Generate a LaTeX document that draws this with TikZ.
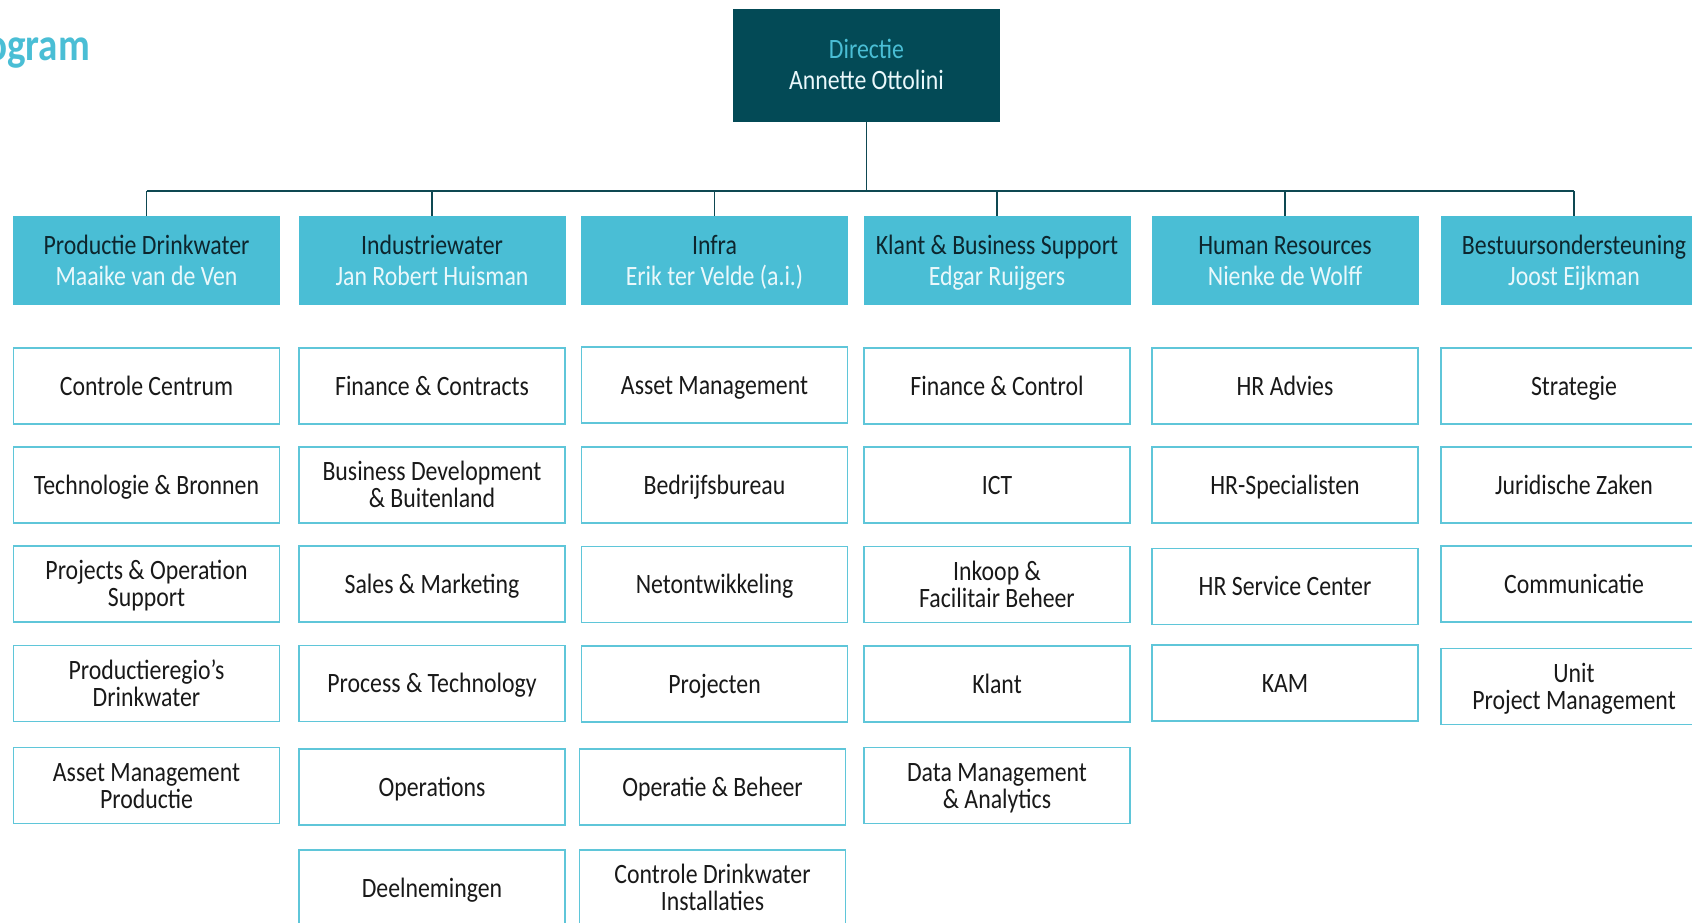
\documentclass[tikz,border=0pt]{standalone}
\usepackage{fontspec}
\setmainfont{Carlito}[FakeStretch=0.85]
\usetikzlibrary{positioning}
\definecolor{hdcyan}{RGB}{74,190,213}
\definecolor{dirteal}{RGB}{3,74,86}
\definecolor{linkteal}{RGB}{14,72,82}
\definecolor{unitline}{RGB}{95,198,217}
\definecolor{hdtext}{RGB}{13,38,46}
\definecolor{hdname}{RGB}{234,248,251}

\begin{document}
\begin{tikzpicture}[x=1pt, y=1pt, line cap=butt,
	dirbox/.style={fill=dirteal, minimum width=267pt, minimum height=113pt,
		inner sep=0pt, align=center, text height=49pt, text depth=0pt,
		font=\fontsize{28}{31}\selectfont},
	headbox/.style={fill=hdcyan, minimum width=267pt, minimum height=89pt,
		inner sep=0pt, align=center, text=hdtext, text height=49pt, text depth=0pt,
		font=\fontsize{28}{31}\selectfont},
	unitbox/.style={draw=unitline, line width=1.6pt, fill=white, minimum width=266pt,
		minimum height=76pt, inner sep=0pt, align=center, text=black!90,
		text height=18pt, text depth=0pt, font=\fontsize{28}{27}\selectfont},
	twoline/.style={text height=45pt},
	link/.style={draw=linkteal, line width=1.5pt}]
	
	\useasboundingbox (0,0) rectangle (1692,-923);
	
	% ===== Title (cut off by the page edge) =====
	\node[anchor=base east, text=hdcyan, inner sep=0pt,
	font=\fontsize{46}{46}\selectfont\bfseries] (title) at (90,-61) {Organogram};
	
	% ===== Top: Directie =====
	\node[dirbox] (dir) at (866.5,-65.5)
	{\textcolor{hdcyan}{Directie}\\\textcolor{hdname}{Annette Ottolini}};
	\coordinate (bus) at (866.5,-191);
	
	% ===== Columns: header + units =====
	% Productie Drinkwater
	\begin{scope}[shift={(146.5,0)}]
		\node[headbox] (prod) at (0,-260.5) {Productie Drinkwater\\\textcolor{hdname}{Maaike van de Ven}};
		\node[unitbox] (prod1) at (0,-386) {Controle Centrum};
		\node[unitbox] (prod2) at (0,-485) {Technologie \& Bronnen};
		\node[unitbox, twoline] (prod3) at (0,-584) {Projects \& Operation\\Support};
		\node[unitbox, twoline] (prod4) at (0,-683.5) {Productieregio’s\\Drinkwater};
		\node[unitbox, twoline] (prod5) at (0,-785.5) {Asset Management\\Productie};
	\end{scope}
	
	% Industriewater
	\begin{scope}[shift={(432,0)}]
		\node[headbox] (ind) at (0,-260.5) {Industriewater\\\textcolor{hdname}{Jan Robert Huisman}};
		\node[unitbox] (ind1) at (0,-386) {Finance \& Contracts};
		\node[unitbox, twoline] (ind2) at (0,-485) {Business Development\\\& Buitenland};
		\node[unitbox] (ind3) at (0,-584) {Sales \& Marketing};
		\node[unitbox] (ind4) at (0,-683.5) {Process \& Technology};
		\node[unitbox] (ind5) at (0,-787) {Operations};
		\node[unitbox] (ind6) at (0,-888) {Deelnemingen};
	\end{scope}
	
	% Infra
	\begin{scope}[shift={(714.5,0)}]
		\node[headbox] (infra) at (0,-260.5) {Infra\\\textcolor{hdname}{Erik ter Velde (a.i.)}};
		\node[unitbox] (infra1) at (0,-385) {Asset Management};
		\node[unitbox] (infra2) at (0,-485) {Bedrijfsbureau};
		\node[unitbox] (infra3) at (0,-584.5) {Netontwikkeling};
		\node[unitbox] (infra4) at (0,-684) {Projecten};
		\node[unitbox] (infra5) at (-2,-787) {Operatie \& Beheer};
		\node[unitbox, twoline] (infra6) at (-2,-888) {Controle Drinkwater\\Installaties};
	\end{scope}
	
	% Klant & Business Support
	\begin{scope}[shift={(997,0)}]
		\node[headbox] (klant) at (0,-260.5) {Klant \& Business Support\\\textcolor{hdname}{Edgar Ruijgers}};
		\node[unitbox] (klant1) at (0,-386) {Finance \& Control};
		\node[unitbox] (klant2) at (0,-485) {ICT};
		\node[unitbox, twoline] (klant3) at (0,-584.5) {Inkoop \&\\Facilitair Beheer};
		\node[unitbox] (klant4) at (0,-684) {Klant};
		\node[unitbox, twoline] (klant5) at (0,-785.5) {Data Management\\\& Analytics};
	\end{scope}
	
	% Human Resources
	\begin{scope}[shift={(1285,0)}]
		\node[headbox] (hr) at (0,-260.5) {Human Resources\\\textcolor{hdname}{Nienke de Wolff}};
		\node[unitbox] (hr1) at (0,-386) {HR Advies};
		\node[unitbox] (hr2) at (0,-485) {HR-Specialisten};
		\node[unitbox] (hr3) at (0,-586.5) {HR Service Center};
		\node[unitbox] (hr4) at (0,-683) {KAM};
	\end{scope}
	
	% Bestuursondersteuning
	\begin{scope}[shift={(1574,0)}]
		\node[headbox] (best) at (0,-260.5) {Bestuursondersteuning\\\textcolor{hdname}{Joost Eijkman}};
		\node[unitbox] (best1) at (0,-386) {Strategie};
		\node[unitbox] (best2) at (0,-485) {Juridische Zaken};
		\node[unitbox] (best3) at (0,-584) {Communicatie};
		\node[unitbox, twoline] (best4) at (0,-686.5) {Unit\\Project Management};
	\end{scope}
	
	% ===== Connectors =====
	\draw[link] (dir.south) -- (bus);
	\draw[link] (prod.north |- bus) -- (best.north |- bus);
	\draw[link] (prod.north) -- (prod.north |- bus);
	\draw[link] (ind.north) -- (ind.north |- bus);
	\draw[link] (infra.north) -- (infra.north |- bus);
	\draw[link] (klant.north) -- (klant.north |- bus);
	\draw[link] (hr.north) -- (hr.north |- bus);
	\draw[link] (best.north) -- (best.north |- bus);
	
\end{tikzpicture}
\end{document}
